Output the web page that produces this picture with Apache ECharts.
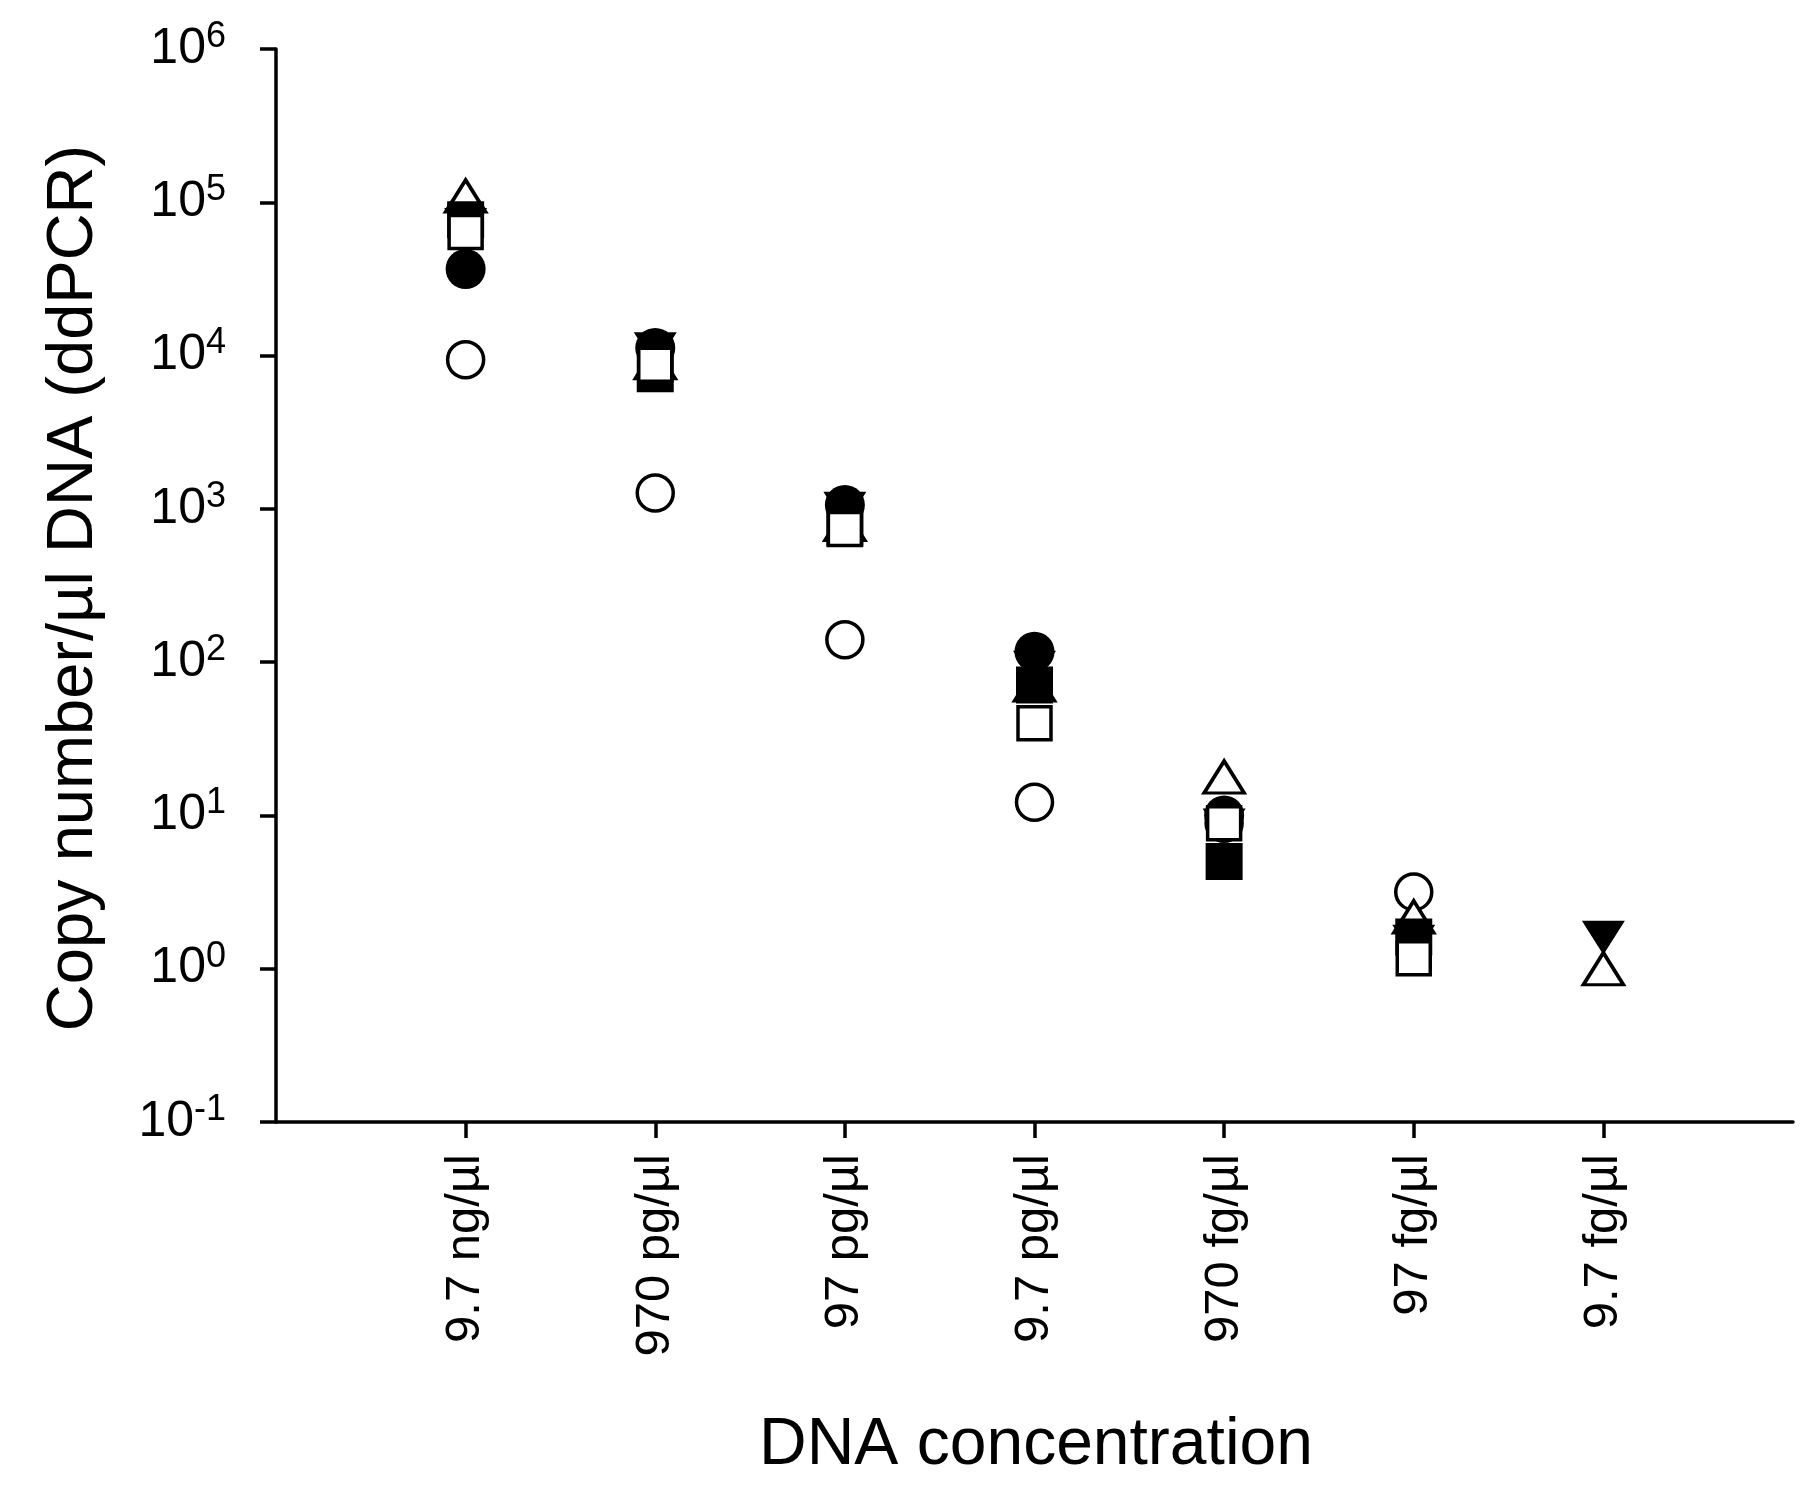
<!DOCTYPE html>
<html>
<head>
    <meta charset="utf-8"/>
    <title>ddPCR copy number</title>
    <style>
        html, body { margin: 0; padding: 0; background: #fff; }
        #chart { width: 1820px; height: 1505px; }
    </style>
</head>
<body>
<div id="chart"></div>
<script src="https://cdn.jsdelivr.net/npm/echarts@6/dist/echarts.min.js"></script>
<script>
    // DNA concentration steps (x axis)
    var categories = ['9.7 ng/µl', '970 pg/µl', '97 pg/µl', '9.7 pg/µl', '970 fg/µl', '97 fg/µl', '9.7 fg/µl'];

    // copy number per µl, one array per marker type
    var openCircle     = [9400, 1270, 140, 12.2, 8.9, 3.17, null];
    var openTriangle   = [110000, 9000, 790, 71, 17.8, 2.18, 1.0];
    var filledCircle   = [36700, 11200, 1060, 117, 10, null, null];
    var filledTriDown  = [71000, 11000, 1000, 92, 8.6, 1.5, 1.59];
    var filledSquare   = [77000, 7600, 750, 71, 5.0, 1.61, null];
    var openSquare     = [64000, 8700, 740, 40, 8.9, 1.17, null];

    var yTicks = [0.1, 1, 10, 100, 1000, 10000, 100000, 1000000];

    var fontMain = "'Liberation Sans', Arial, sans-serif";

    // axis has an empty slot before and after the real categories
    var axisCats = [' '].concat(categories).concat(['  ']);

    function toPairs(arr) {
        var out = [];
        for (var i = 0; i < arr.length; i++) {
            if (arr[i] != null) out.push([i + 1, arr[i]]);
        }
        return out;
    }

    function openStyle() {
        return { color: '#fff', borderColor: '#000', borderWidth: 3.5, opacity: 1 };
    }
    var filledStyle = { color: '#000', opacity: 1 };

    var chart = echarts.init(document.getElementById('chart'));

    var option = {
        backgroundColor: '#fff',
        animation: false,
        grid: { left: 276, right: 27, top: 49, bottom: 383, containLabel: false },
        xAxis: {
            type: 'category',
            data: axisCats,
            boundaryGap: false,
            axisLine: { show: true, lineStyle: { color: '#000', width: 3.5 } },
            axisTick: {
                show: true, length: 16, lineStyle: { color: '#000', width: 3.5 },
                interval: function (idx) { return idx > 0 && idx < axisCats.length - 1; }
            },
            axisLabel: {
                rotate: 90, margin: 32, color: '#000',
                fontFamily: fontMain, fontSize: 49,
                interval: function (idx) { return idx > 0 && idx < axisCats.length - 1; }
            },
            splitLine: { show: false }
        },
        yAxis: {
            type: 'log',
            logBase: 10,
            min: yTicks[0],
            max: yTicks[yTicks.length - 1],
            splitNumber: 7,
            axisLine: { show: true, lineStyle: { color: '#000', width: 3.5 } },
            axisTick: { show: true, length: 16, lineStyle: { color: '#000', width: 3.5 } },
            splitLine: { show: false },
            axisLabel: {
                margin: 50,
                color: '#000',
                formatter: function (v) {
                    var e = Math.round(Math.log(v) / Math.LN10);
                    return '{b|10}{s|' + e + '}';
                },
                rich: {
                    b: { fontFamily: fontMain, fontSize: 50, lineHeight: 50, color: '#000' },
                    s: { fontFamily: fontMain, fontSize: 36, lineHeight: 36, padding: [0, 0, 24, 0], color: '#000' }
                }
            }
        },
        graphic: [
            {
                type: 'text',
                x: 74, y: 588,
                rotation: Math.PI / 2,
                style: {
                    text: 'Copy number/µl DNA (ddPCR)',
                    font: '65px ' + fontMain,
                    fill: '#000',
                    textAlign: 'center',
                    textVerticalAlign: 'middle'
                }
            },
            {
                type: 'text',
                x: 1036, y: 1446,
                style: {
                    text: 'DNA concentration',
                    font: '66px ' + fontMain,
                    fill: '#000',
                    textAlign: 'center',
                    textVerticalAlign: 'middle'
                }
            }
        ],
        series: [
            { name: 'open circle', type: 'scatter', symbol: 'circle', symbolSize: 36,
              itemStyle: openStyle(), data: toPairs(openCircle) },
            { name: 'open triangle', type: 'scatter', symbol: 'triangle', symbolSize: [40, 32],
              itemStyle: openStyle(), data: toPairs(openTriangle) },
            { name: 'filled circle', type: 'scatter', symbol: 'circle', symbolSize: 40,
              itemStyle: filledStyle, data: toPairs(filledCircle) },
            { name: 'filled triangle down', type: 'scatter', symbol: 'triangle', symbolRotate: 180,
              symbolSize: [43, 34], itemStyle: filledStyle, data: toPairs(filledTriDown) },
            { name: 'filled square', type: 'scatter', symbol: 'rect', symbolSize: 37,
              itemStyle: filledStyle, data: toPairs(filledSquare) },
            { name: 'open square', type: 'scatter', symbol: 'rect', symbolSize: 33,
              itemStyle: openStyle(), data: toPairs(openSquare) }
        ]
    };

    chart.setOption(option);

    window.onresize = function () {
        chart.resize();
    };
</script>
</body>
</html>
